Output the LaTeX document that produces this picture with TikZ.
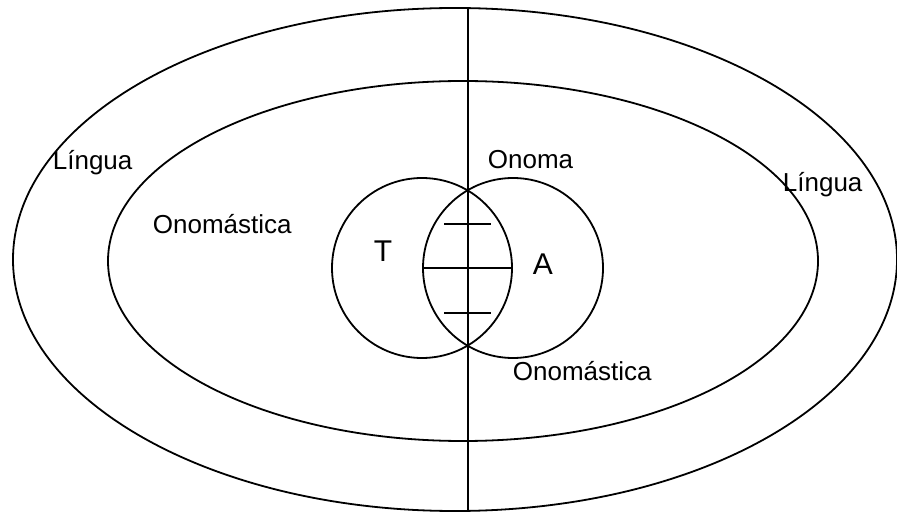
\documentclass[tikz,border=0pt]{standalone}
\usepackage{fontspec}
\setmainfont{Liberation Sans}
\begin{document}
\begin{tikzpicture}[
  x=0.5pt, y=-0.5pt,
  line width=0.9pt,
  every node/.style={font=\fontsize{13}{15}\selectfont, inner sep=0pt},
  setlabel/.style={anchor=base west},
  biglabel/.style={anchor=base west, font=\fontsize{15}{18}\selectfont},
]
\useasboundingbox (0,0) rectangle (897,512);

% Lingua and Onomastica
\draw (455,259.5) ellipse [x radius=221pt, y radius=125.75pt];
\draw (463,261) ellipse [x radius=177.5pt, y radius=90pt];

% T and A
\coordinate (tc) at (422,268);
\coordinate (ac) at (513,268);
\draw (tc) circle [radius=45pt];
\draw (ac) circle [radius=45pt];

\coordinate (top) at (468,8);
\coordinate (bot) at (468,511);
\draw (top) -- (bot);
\draw (tc) -- (ac);
\draw (444,224) -- (491,224);
\draw (444,313) -- (491,313);

\node[setlabel] (lingl) at (52,170) {Língua};
\node[setlabel] (onoml) at (152,234) {Onomástica};
\node[setlabel] (onoma) at (487,169) {Onoma};
\node[setlabel] (lingr) at (782,192) {Língua};
\node[setlabel] (onomr) at (512,380) {Onomástica};
\node[biglabel] (t) at (373,262) {T};
\node[biglabel] (a) at (532,275) {A};
\end{tikzpicture}
\end{document}
